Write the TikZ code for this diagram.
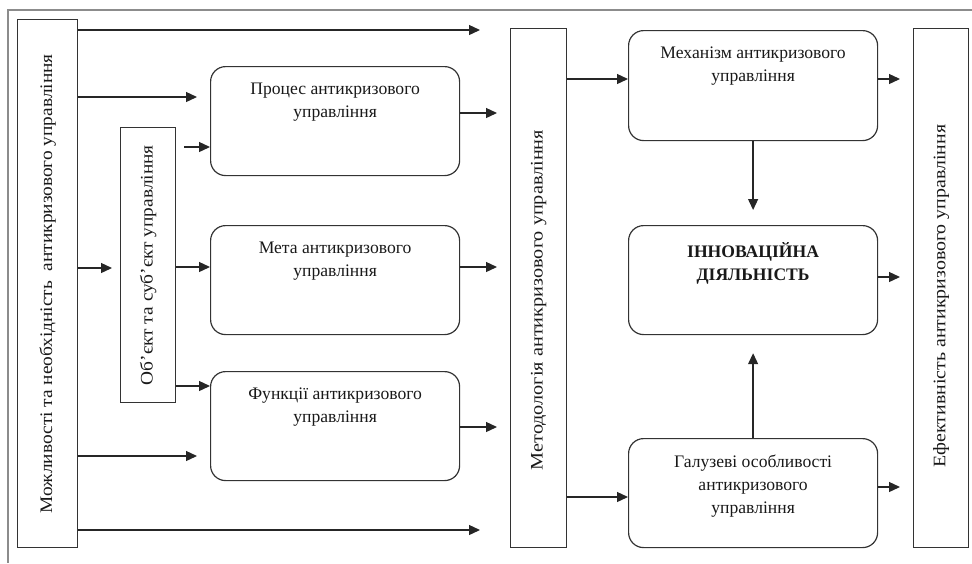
\documentclass[tikz,border=0pt]{standalone}
\usepackage{fontspec}
\setmainfont{Liberation Serif}
\usetikzlibrary{arrows.meta}
\begin{document}
\begin{tikzpicture}[x=1pt,y=-1pt,
  every node/.style={font=\fontsize{17.6}{23}\selectfont, text=black!90},
  sqbox/.style={draw=black!80, line width=1.2pt, rectangle, anchor=north west, inner sep=0pt},
  rbox/.style={draw=black!80, line width=1.2pt, rectangle, rounded corners=15pt, anchor=north west, inner sep=0pt, minimum width=249pt, minimum height=109pt},
  boxtext/.style={anchor=north, align=center, inner sep=0pt, yshift=-17pt},
  vtext/.style={rotate=90, inner sep=0pt},
  arr/.style={draw=black!85, line width=1.3pt, -{Triangle[length=11pt,width=10pt]}},
  frame/.style={draw=black!45, line width=1.6pt}]
\newcommand{\vstretch}[1]{\scalebox{1.1}[1]{#1}}
\useasboundingbox (0,0) rectangle (972,563);
\draw[frame] (972,10) -- (8,10) -- (8,563);

% tall boxes
\node[sqbox, minimum width=60pt, minimum height=528pt] (L) at (17,19) {};
\node[vtext] at (L.center) {\vstretch{Можливості та необхідність\ \ антикризового управління}};
\node[sqbox, minimum width=55pt, minimum height=275pt] (O) at (120,127) {};
\node[vtext] at (O.center) {\vstretch{Об’єкт та суб’єкт управління}};
\node[sqbox, minimum width=56pt, minimum height=519pt] (M) at (510,28) {};
\node[vtext] at ([yshift=-12pt]M.center) {\scalebox{1.15}[1]{Методологія антикризового управління}};
\node[sqbox, minimum width=55pt, minimum height=519pt] (E) at (913,28) {};
\node[vtext] at ([yshift=-8pt]E.center) {\scalebox{1.13}[1]{Ефективність антикризового управління}};

% rounded boxes
\node[rbox] (P1) at (210,66) {};
\node[boxtext] at (P1.north) {Процес антикризового\\управління};
\node[rbox] (P2) at (210,225) {};
\node[boxtext] at (P2.north) {Мета антикризового\\управління};
\node[rbox] (P3) at (210,371) {};
\node[boxtext] at (P3.north) {Функції антикризового\\управління};
\node[rbox, minimum height=110pt] (R1) at (628,30) {};
\node[boxtext] at (R1.north) {Механізм антикризового\\управління};
\node[rbox] (R2) at (628,225) {};
\node[boxtext, font=\fontsize{17.6}{23}\selectfont\bfseries] at (R2.north) {ІННОВАЦІЙНА\\ДІЯЛЬНІСТЬ};
\node[rbox] (R3) at (628,438) {};
\node[boxtext] at (R3.north) {Галузеві особливості\\антикризового\\управління};

% arrows from L
\draw[arr, shorten >=30pt] (L.east |- 0,30) -- (M.west |- 0,30);
\draw[arr, shorten >=13pt] (L.east |- 0,97) -- (P1.west |- 0,97);
\draw[arr, shorten >=8pt] (L.east |- 0,268) -- (O.west |- 0,268);
\draw[arr, shorten >=13pt] (L.east |- 0,456) -- (P3.west |- 0,456);
\draw[arr, shorten >=30pt] (L.east |- 0,530) -- (M.west |- 0,530);
% arrows from O
\draw[arr, shorten <=8pt] (O.east |- 0,147) -- (P1.west |- 0,147);
\draw[arr] (O.east |- 0,267) -- (P2.west |- 0,267);
\draw[arr] (O.east |- 0,386) -- (P3.west |- 0,386);
% arrows to M
\draw[arr, shorten >=13pt] (P1.east |- 0,113) -- (M.west |- 0,113);
\draw[arr, shorten >=13pt] (P2.east |- 0,267) -- (M.west |- 0,267);
\draw[arr, shorten >=13pt] (P3.east |- 0,427) -- (M.west |- 0,427);
% arrows from M
\draw[arr] (M.east |- 0,79) -- (R1.west |- 0,79);
\draw[arr] (M.east |- 0,497) -- (R3.west |- 0,497);
% arrows to E
\draw[arr, shorten >=13pt] (R1.east |- 0,79) -- (E.west |- 0,79);
\draw[arr, shorten >=13pt] (R2.east |- 0,277) -- (E.west |- 0,277);
\draw[arr, shorten >=13pt] (R3.east |- 0,487) -- (E.west |- 0,487);
% vertical
\draw[arr, shorten >=15pt] (R1.south) -- (R2.north);
\draw[arr, shorten >=18pt] (R3.north) -- (R2.south);
\end{tikzpicture}
\end{document}
